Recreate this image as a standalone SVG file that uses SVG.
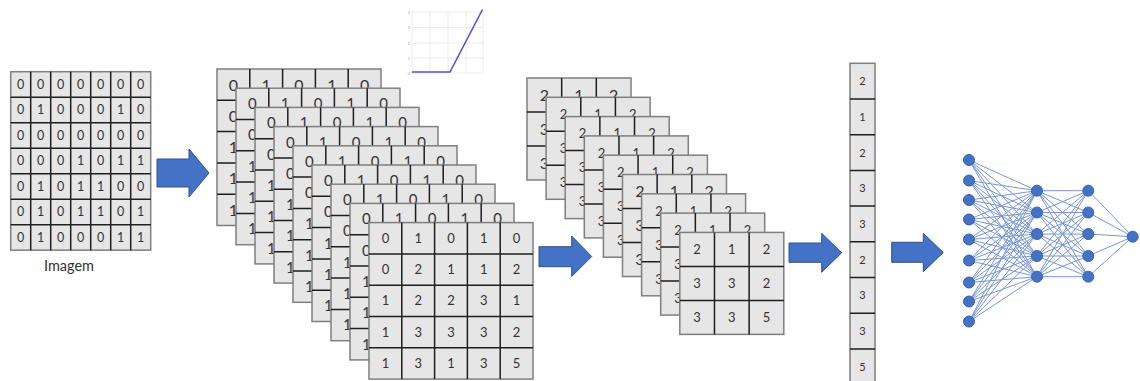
<svg xmlns="http://www.w3.org/2000/svg" xmlns:xlink="http://www.w3.org/1999/xlink" width="1140" height="381" viewBox="0 0 1140 381">
<style>
.cell{fill:#e7e6e6;stroke:#7f7f7f;stroke-width:1.5}
.grid{fill:none;stroke:#1e1e1e;stroke-width:1.5}
.t{font-family:Lato,"Liberation Sans",sans-serif;fill:#333;text-anchor:middle}
.f11{font-size:11px}.f12{font-size:12.5px}.f13{font-size:13px}.f15{font-size:15px}.f16{font-size:16px}
.arrow{fill:#4472c4;stroke:#2f528f;stroke-width:1}
.nn{fill:none;stroke:#7896d4;stroke-width:1;stroke-linejoin:round}
.node{fill:#4472c4;stroke:#3b63ad;stroke-width:1}
.rg{stroke:#e8e8e8;stroke-width:0.8;fill:none}
.tick{font-family:"Liberation Sans",sans-serif;font-size:4px;fill:#999;text-anchor:end}
</style>
<defs>
<g id="fm"><rect class="cell" width="164" height="156.5"/><path class="grid" d="M32.8 0V156.5M65.6 0V156.5M98.4 0V156.5M131.2 0V156.5M0 31.3H164M0 62.6H164M0 93.9H164M0 125.2H164"/></g>
<g id="pm"><rect class="cell" width="104" height="102"/><path class="grid" d="M34.67 0V102M69.33 0V102M0 34H104M0 68H104"/></g>
</defs>

<g id="image">
<rect class="cell" x="10.7" y="71.7" width="140" height="178.5"/>
<path class="grid" d="M30.7 71.7V250.2M50.7 71.7V250.2M70.7 71.7V250.2M90.7 71.7V250.2M110.7 71.7V250.2M130.7 71.7V250.2M10.7 97.2H150.7M10.7 122.7H150.7M10.7 148.2H150.7M10.7 173.7H150.7M10.7 199.2H150.7M10.7 224.7H150.7"/>
<g class="t f12">
<text x="20.7" y="88.8">0</text><text x="40.7" y="88.8">0</text><text x="60.7" y="88.8">0</text><text x="80.7" y="88.8">0</text><text x="100.7" y="88.8">0</text><text x="120.7" y="88.8">0</text><text x="140.7" y="88.8">0</text>
<text x="20.7" y="114.3">0</text><text x="40.7" y="114.3">1</text><text x="60.7" y="114.3">0</text><text x="80.7" y="114.3">0</text><text x="100.7" y="114.3">0</text><text x="120.7" y="114.3">1</text><text x="140.7" y="114.3">0</text>
<text x="20.7" y="139.8">0</text><text x="40.7" y="139.8">0</text><text x="60.7" y="139.8">0</text><text x="80.7" y="139.8">0</text><text x="100.7" y="139.8">0</text><text x="120.7" y="139.8">0</text><text x="140.7" y="139.8">0</text>
<text x="20.7" y="165.3">0</text><text x="40.7" y="165.3">0</text><text x="60.7" y="165.3">0</text><text x="80.7" y="165.3">1</text><text x="100.7" y="165.3">0</text><text x="120.7" y="165.3">1</text><text x="140.7" y="165.3">1</text>
<text x="20.7" y="190.8">0</text><text x="40.7" y="190.8">1</text><text x="60.7" y="190.8">0</text><text x="80.7" y="190.8">1</text><text x="100.7" y="190.8">1</text><text x="120.7" y="190.8">0</text><text x="140.7" y="190.8">0</text>
<text x="20.7" y="216.3">0</text><text x="40.7" y="216.3">1</text><text x="60.7" y="216.3">0</text><text x="80.7" y="216.3">1</text><text x="100.7" y="216.3">1</text><text x="120.7" y="216.3">0</text><text x="140.7" y="216.3">1</text>
<text x="20.7" y="241.8">0</text><text x="40.7" y="241.8">1</text><text x="60.7" y="241.8">0</text><text x="80.7" y="241.8">0</text><text x="100.7" y="241.8">0</text><text x="120.7" y="241.8">1</text><text x="140.7" y="241.8">1</text>
</g>
<text class="t" x="69" y="271" style="font-size:14.5px">Imagem</text>
</g>

<g id="relu">
<path class="rg" d="M412 11V73M430 11V73M448 11V73M466 11V73M483 11V73M412 12H483M412 27.5H483M412 43H483M412 58H483M412 73H483"/>
<text class="tick" x="410" y="13.5">4</text><text class="tick" x="410" y="29">3</text><text class="tick" x="410" y="44.5">2</text><text class="tick" x="410" y="59.5">1</text><text class="tick" x="410" y="74.5">0</text>
<polyline points="412,72 450,72 482.5,9.5" fill="none" stroke="#5252d4" stroke-width="1.6"/>
</g>

<g id="feature-maps">
<g id="fm0"><use xlink:href="#fm" x="217" y="69"/><g class="t f16"><text x="233.4" y="90.5">0</text><text x="266.2" y="90.5">1</text><text x="299" y="90.5">0</text><text x="331.8" y="90.5">1</text><text x="364.6" y="90.5">0</text><text x="233.4" y="121.8">0</text><text x="233.4" y="153.1">1</text><text x="233.4" y="184.4">1</text><text x="233.4" y="215.7">1</text></g></g>
<g id="fm1"><use xlink:href="#fm" x="236" y="88.2"/><g class="t f15"><text x="252.4" y="109.15">0</text><text x="285.2" y="109.15">1</text><text x="318" y="109.15">0</text><text x="350.8" y="109.15">1</text><text x="383.6" y="109.15">0</text><text x="252.4" y="140.45">0</text><text x="252.4" y="171.75">1</text><text x="252.4" y="203.05">1</text><text x="252.4" y="234.35">1</text></g></g>
<g id="fm2"><use xlink:href="#fm" x="255" y="107.4"/><g class="t f15"><text x="271.4" y="128.35">0</text><text x="304.2" y="128.35">1</text><text x="337" y="128.35">0</text><text x="369.8" y="128.35">1</text><text x="402.6" y="128.35">0</text><text x="271.4" y="159.65">0</text><text x="271.4" y="190.95">1</text><text x="271.4" y="222.25">1</text><text x="271.4" y="253.55">1</text></g></g>
<g id="fm3"><use xlink:href="#fm" x="274" y="126.6"/><g class="t f15"><text x="290.4" y="147.55">0</text><text x="323.2" y="147.55">1</text><text x="356" y="147.55">0</text><text x="388.8" y="147.55">1</text><text x="421.6" y="147.55">0</text><text x="290.4" y="178.85">0</text><text x="290.4" y="210.15">1</text><text x="290.4" y="241.45">1</text><text x="290.4" y="272.75">1</text></g></g>
<g id="fm4"><use xlink:href="#fm" x="293" y="145.8"/><g class="t f15"><text x="309.4" y="166.75">0</text><text x="342.2" y="166.75">1</text><text x="375" y="166.75">0</text><text x="407.8" y="166.75">1</text><text x="440.6" y="166.75">0</text><text x="309.4" y="198.05">0</text><text x="309.4" y="229.35">1</text><text x="309.4" y="260.65">1</text><text x="309.4" y="291.95">1</text></g></g>
<g id="fm5"><use xlink:href="#fm" x="312" y="165"/><g class="t f15"><text x="328.4" y="185.95">0</text><text x="361.2" y="185.95">1</text><text x="394" y="185.95">0</text><text x="426.8" y="185.95">1</text><text x="459.6" y="185.95">0</text><text x="328.4" y="217.25">0</text><text x="328.4" y="248.55">1</text><text x="328.4" y="279.85">1</text><text x="328.4" y="311.15">1</text></g></g>
<g id="fm6"><use xlink:href="#fm" x="331" y="184.2"/><g class="t f15"><text x="347.4" y="205.15">0</text><text x="380.2" y="205.15">1</text><text x="413" y="205.15">0</text><text x="445.8" y="205.15">1</text><text x="478.6" y="205.15">0</text><text x="347.4" y="236.45">0</text><text x="347.4" y="267.75">1</text><text x="347.4" y="299.05">1</text><text x="347.4" y="330.35">1</text></g></g>
<g id="fm7"><use xlink:href="#fm" x="350" y="203.4"/><g class="t f15"><text x="366.4" y="224.35">0</text><text x="399.2" y="224.35">1</text><text x="432" y="224.35">0</text><text x="464.8" y="224.35">1</text><text x="497.6" y="224.35">0</text><text x="366.4" y="255.65">0</text><text x="366.4" y="286.95">1</text><text x="366.4" y="318.25">1</text><text x="366.4" y="349.55">1</text></g></g>
<g id="fm8"><use xlink:href="#fm" x="369" y="222.6"/><g class="t f13">
<text x="385.4" y="242.75">0</text><text x="418.2" y="242.75">1</text><text x="451" y="242.75">0</text><text x="483.8" y="242.75">1</text><text x="516.6" y="242.75">0</text>
<text x="385.4" y="274.05">0</text><text x="418.2" y="274.05">2</text><text x="451" y="274.05">1</text><text x="483.8" y="274.05">1</text><text x="516.6" y="274.05">2</text>
<text x="385.4" y="305.35">1</text><text x="418.2" y="305.35">2</text><text x="451" y="305.35">2</text><text x="483.8" y="305.35">3</text><text x="516.6" y="305.35">1</text>
<text x="385.4" y="336.65">1</text><text x="418.2" y="336.65">3</text><text x="451" y="336.65">3</text><text x="483.8" y="336.65">3</text><text x="516.6" y="336.65">2</text>
<text x="385.4" y="367.95">1</text><text x="418.2" y="367.95">3</text><text x="451" y="367.95">1</text><text x="483.8" y="367.95">3</text><text x="516.6" y="367.95">5</text>
</g></g>
</g>

<g id="pooled-maps">
<g id="pm0"><use xlink:href="#pm" x="527" y="78"/><g class="t f16"><text x="544.3" y="100.8">2</text><text x="579" y="100.8">1</text><text x="613.7" y="100.8">2</text><text x="544.3" y="134.8">3</text><text x="544.3" y="168.8">3</text></g></g>
<g id="pm1"><use xlink:href="#pm" x="546.1" y="97.3"/><g class="t f13"><text x="563.4" y="119">2</text><text x="598.1" y="119">1</text><text x="632.8" y="119">2</text><text x="563.4" y="153">3</text><text x="563.4" y="187">3</text></g></g>
<g id="pm2"><use xlink:href="#pm" x="565.2" y="116.6"/><g class="t f13"><text x="582.5" y="138.3">2</text><text x="617.2" y="138.3">1</text><text x="651.9" y="138.3">2</text><text x="582.5" y="172.3">3</text><text x="582.5" y="206.3">3</text></g></g>
<g id="pm3"><use xlink:href="#pm" x="584.3" y="135.9"/><g class="t f13"><text x="601.6" y="157.6">2</text><text x="636.3" y="157.6">1</text><text x="671" y="157.6">2</text><text x="601.6" y="191.6">3</text><text x="601.6" y="225.6">3</text></g></g>
<g id="pm4"><use xlink:href="#pm" x="603.4" y="155.2"/><g class="t f13"><text x="620.7" y="176.9">2</text><text x="655.4" y="176.9">1</text><text x="690.1" y="176.9">2</text><text x="620.7" y="210.9">3</text><text x="620.7" y="244.9">3</text></g></g>
<g id="pm5"><use xlink:href="#pm" x="622.5" y="174.5"/><g class="t f16"><text x="639.8" y="197.3">2</text><text x="674.5" y="197.3">1</text><text x="709.2" y="197.3">2</text><text x="639.8" y="231.3">3</text><text x="639.8" y="265.3">3</text></g></g>
<g id="pm6"><use xlink:href="#pm" x="641.6" y="193.8"/><g class="t f13"><text x="658.9" y="215.5">2</text><text x="693.6" y="215.5">1</text><text x="728.3" y="215.5">2</text><text x="658.9" y="249.5">3</text><text x="658.9" y="283.5">3</text></g></g>
<g id="pm7"><use xlink:href="#pm" x="660.7" y="213.1"/><g class="t f13"><text x="678" y="234.8">2</text><text x="712.7" y="234.8">1</text><text x="747.4" y="234.8">2</text><text x="678" y="268.8">3</text><text x="678" y="302.8">3</text></g></g>
<g id="pm8"><use xlink:href="#pm" x="679.8" y="232.4"/><g class="t f13">
<text x="697.1" y="253.9">2</text><text x="731.8" y="253.9">1</text><text x="766.5" y="253.9">2</text>
<text x="697.1" y="287.9">3</text><text x="731.8" y="287.9">3</text><text x="766.5" y="287.9">2</text>
<text x="697.1" y="321.9">3</text><text x="731.8" y="321.9">3</text><text x="766.5" y="321.9">5</text>
</g></g>
</g>

<g id="flatten">
<rect class="cell" x="850" y="63.3" width="25" height="321.3"/>
<path class="grid" d="M850 99H875M850 134.7H875M850 170.4H875M850 206.1H875M850 241.8H875M850 277.5H875M850 313.2H875M850 348.9H875"/>
<g class="t f11">
<text x="862.5" y="85.15">2</text><text x="862.5" y="120.85">1</text><text x="862.5" y="156.55">2</text><text x="862.5" y="192.25">3</text><text x="862.5" y="227.95">3</text><text x="862.5" y="263.65">2</text><text x="862.5" y="299.35">3</text><text x="862.5" y="335.05">3</text><text x="862.5" y="370.75">5</text>
</g>
</g>

<g id="connectors">
<polygon class="arrow" points="157,159 189,159 189,149 209,173 189,197 189,187 157,187"/>
<polygon class="arrow" points="539,246.7 571.7,246.7 571.7,236 591.7,256.5 571.7,276.5 571.7,266.7 539,266.7"/>
<polygon class="arrow" points="789,243 821.7,243 821.7,233.3 841.7,252.7 821.7,272.3 821.7,262.3 789,262.3"/>
<polygon class="arrow" points="891.7,242.3 923.3,242.3 923.3,233.3 943.3,252.5 923.3,271.7 923.3,262.3 891.7,262.3"/>
<path class="nn" d="M969 160L1037 190.7L969 180.5M969 200L1037 190.7L969 219.5M969 239.5L1037 190.7L969 260.5M969 282.5L1037 190.7L969 301.5M969 321.5L1037 190.7
M969 160L1037 212.5L969 180.5M969 200L1037 212.5L969 219.5M969 239.5L1037 212.5L969 260.5M969 282.5L1037 212.5L969 301.5M969 321.5L1037 212.5
M969 160L1037 234L969 180.5M969 200L1037 234L969 219.5M969 239.5L1037 234L969 260.5M969 282.5L1037 234L969 301.5M969 321.5L1037 234
M969 160L1037 256L969 180.5M969 200L1037 256L969 219.5M969 239.5L1037 256L969 260.5M969 282.5L1037 256L969 301.5M969 321.5L1037 256
M969 160L1037 276.7L969 180.5M969 200L1037 276.7L969 219.5M969 239.5L1037 276.7L969 260.5M969 282.5L1037 276.7L969 301.5M969 321.5L1037 276.7
M1037 190.7L1088.3 190.7L1037 212.5M1037 234L1088.3 190.7L1037 256M1037 276.7L1088.3 190.7
M1037 190.7L1088.3 212.5L1037 212.5M1037 234L1088.3 212.5L1037 256M1037 276.7L1088.3 212.5
M1037 190.7L1088.3 234L1037 212.5M1037 234L1088.3 234L1037 256M1037 276.7L1088.3 234
M1037 190.7L1088.3 256L1037 212.5M1037 234L1088.3 256L1037 256M1037 276.7L1088.3 256
M1037 190.7L1088.3 276.7L1037 212.5M1037 234L1088.3 276.7L1037 256M1037 276.7L1088.3 276.7
M1088.3 190.7L1132.7 236.7L1088.3 212.5M1088.3 234L1132.7 236.7L1088.3 256M1088.3 276.7L1132.7 236.7"/>
</g>

<g id="nn-input">
<circle class="node" cx="969" cy="160" r="5.5"/><circle class="node" cx="969" cy="180.5" r="5.5"/><circle class="node" cx="969" cy="200" r="5.5"/><circle class="node" cx="969" cy="219.5" r="5.5"/><circle class="node" cx="969" cy="239.5" r="5.5"/><circle class="node" cx="969" cy="260.5" r="5.5"/><circle class="node" cx="969" cy="282.5" r="5.5"/><circle class="node" cx="969" cy="301.5" r="5.5"/><circle class="node" cx="969" cy="321.5" r="5.5"/>
</g>
<g id="nn-hidden1">
<circle class="node" cx="1037" cy="190.7" r="5.5"/><circle class="node" cx="1037" cy="212.5" r="5.5"/><circle class="node" cx="1037" cy="234" r="5.5"/><circle class="node" cx="1037" cy="256" r="5.5"/><circle class="node" cx="1037" cy="276.7" r="5.5"/>
</g>
<g id="nn-hidden2">
<circle class="node" cx="1088.3" cy="190.7" r="5.5"/><circle class="node" cx="1088.3" cy="212.5" r="5.5"/><circle class="node" cx="1088.3" cy="234" r="5.5"/><circle class="node" cx="1088.3" cy="256" r="5.5"/><circle class="node" cx="1088.3" cy="276.7" r="5.5"/>
</g>
<g id="nn-output">
<circle class="node" cx="1132.7" cy="236.7" r="5.5"/>
</g>
</svg>
